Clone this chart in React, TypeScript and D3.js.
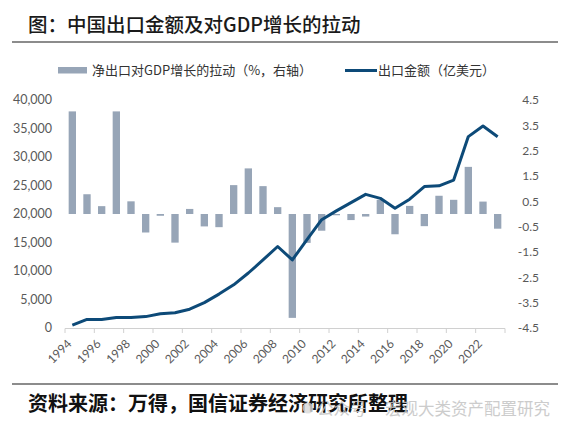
import React from "react";
import * as d3 from "d3";

const years: string[] = [
  "1994","1995","1996","1997","1998","1999","2000","2001","2002","2003",
  "2004","2005","2006","2007","2008","2009","2010","2011","2012","2013",
  "2014","2015","2016","2017","2018","2019","2020","2021","2022","2023",
];
// 出口金额（亿美元）
const exportsValue: number[] = [
  500, 1500, 1510, 1850, 1860, 2000, 2500, 2680, 3300, 4450,
  5950, 7580, 9650, 11950, 14300, 11950, 15500, 19000, 20550, 22000,
  23450, 22750, 21000, 22600, 24820, 24950, 25950, 33580, 35450, 33550,
];
// 净出口对GDP增长的拉动（%，右轴）
const netExportPull: number[] = [
  4.05, 0.78, 0.31, 4.05, 0.5, -0.73, -0.07, -1.13, 0.2, -0.49,
  -0.52, 1.14, 1.8, 1.1, 0.27, -4.1, -1.14, -0.66, -0.05, -0.24,
  -0.1, 0.56, -0.8, 0.32, -0.48, 0.72, 0.56, 1.86, 0.49, -0.58,
];
const leftTicks: number[] = [0, 5000, 10000, 15000, 20000, 25000, 30000, 35000, 40000];
const rightTicks: number[] = [4.5, 3.5, 2.5, 1.5, 0.5, -0.5, -1.5, -2.5, -3.5, -4.5];

const BAR = "#97a5b7";
const LINE = "#0d4a78";
const AXIS_TEXT = "#595959";
const CJK = "'Noto Sans CJK SC', 'Noto Sans', sans-serif";
const NUM = "Lato, 'Open Sans', sans-serif";

export default function App() {
  const W = 568, H = 432;
  const x = d3.scaleBand<string>().domain(years).range([65, 505]).paddingInner(0.5).paddingOuter(0.25);
  const yL = d3.scaleLinear().domain([0, 40000]).range([328, 100]);
  const yR = d3.scaleLinear().domain([-4.5, 4.5]).range([328, 100]);
  const cx = (y: string) => (x(y) ?? 0) + x.bandwidth() / 2;
  const line = d3
    .line<number>()
    .x((_, i) => cx(years[i]))
    .y((d) => yL(d))
    .curve(d3.curveLinear);
  const step = x.step();
  const tickXs = d3.range(0, years.length + 1, 2).map((k) => 65 + k * step);

  return (
    <svg width={W} height={H} style={{ position: "absolute", left: 0, top: 0, background: "#fff" }}>
      {/* title */}
      <text x={28} y={32} fontFamily={CJK} fontSize={19.5} fontWeight={500} fill="#1a1a1a">
        图：中国出口金额及对GDP增长的拉动
      </text>
      <line x1={12} x2={558} y1={42} y2={42} stroke="#8c8c8c" strokeWidth={2} />

      {/* legend */}
      <rect x={58} y={67} width={29} height={6.5} fill={BAR} />
      <text x={92} y={75} fontFamily={CJK} fontSize={13} fill="#333">
        净出口对GDP增长的拉动（%，右轴）
      </text>
      <line x1={345} x2={377} y1={70.5} y2={70.5} stroke={LINE} strokeWidth={3} />
      <text x={378} y={75} fontFamily={CJK} fontSize={13} fill="#333">
        出口金额（亿美元）
      </text>

      {/* left axis labels */}
      {leftTicks.map((t) => (
        <text key={"l" + t} x={52} y={yL(t)} dy="0.35em" textAnchor="end" fontFamily={NUM} fontSize={12.5} fill={AXIS_TEXT}>
          {d3.format(",")(t)}
        </text>
      ))}
      {/* right axis labels */}
      {rightTicks.map((t) => (
        <text key={"r" + t} x={539} y={yR(t)} dy="0.35em" textAnchor="end" fontFamily={NUM} fontSize={12} fill={AXIS_TEXT}>
          {t.toFixed(1)}
        </text>
      ))}

      {/* bars */}
      {netExportPull.map((v, i) => (
        <rect
          key={"b" + i}
          x={x(years[i])}
          width={x.bandwidth()}
          y={yR(Math.max(0, v))}
          height={Math.abs(yR(v) - yR(0))}
          fill={BAR}
        />
      ))}

      {/* x axis */}
      <line x1={65} x2={505} y1={328.5} y2={328.5} stroke="#d0d0d0" strokeWidth={1} />
      {tickXs.map((tx, k) => (
        <line key={"t" + k} x1={tx} x2={tx} y1={328.5} y2={333} stroke="#d0d0d0" strokeWidth={1} />
      ))}
      {years.map((yr, i) =>
        i % 2 === 0 ? (
          <text
            key={"x" + yr}
            transform={`translate(${cx(yr)},${344.5}) rotate(-45)`}
            textAnchor="end"
            fontFamily={NUM}
            fontSize={12}
            fill={AXIS_TEXT}
          >
            {yr}
          </text>
        ) : null
      )}

      {/* line */}
      <path d={line(exportsValue) ?? ""} fill="none" stroke={LINE} strokeWidth={3} strokeLinejoin="round" />

      {/* footer */}
      <line x1={12} x2={558} y1={384} y2={384} stroke="#8c8c8c" strokeWidth={2} />
      <text x={28} y={411} fontFamily={CJK} fontSize={20} fontWeight={700} fill="#111">
        资料来源：万得，国信证券经济研究所整理
      </text>
      <circle cx={308} cy={408} r={5.5} fill="#d8d8d8" opacity={0.8} />
      <text x={317} y={414.5} fontFamily={CJK} fontSize={16.5} fill="#c4c4c4" opacity={0.85}>
        公众号
      </text>
      <text x={385} y={414.5} fontFamily={CJK} fontSize={16.5} fill="#c4c4c4" opacity={0.85}>
        宏观大类资产配置研究
      </text>
    </svg>
  );
}
